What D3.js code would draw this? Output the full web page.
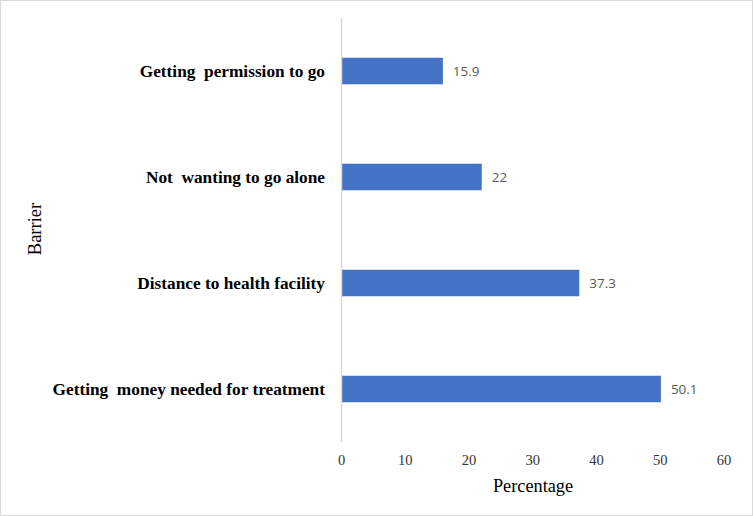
<!DOCTYPE html>
<html>
<head>
<meta charset="utf-8">
<script src="https://cdn.jsdelivr.net/npm/d3@7"></script>
<style>
  html, body { margin: 0; padding: 0; background: #fff; }
  svg text { white-space: pre; }
</style>
</head>
<body>
<svg id="chart" width="753" height="516"></svg>
<script>
const categories = [
  "Getting  permission to go",
  "Not  wanting to go alone",
  "Distance to health facility",
  "Getting  money needed for treatment"
];
const values = [15.9, 22, 37.3, 50.1];
const valueLabels = ["15.9", "22", "37.3", "50.1"];
const xTicks = [0, 10, 20, 30, 40, 50, 60];

(function () {
const svg = d3.select("#chart");
const W = 753, H = 516;

svg.append("rect")
  .attr("x", 0.5).attr("y", 0.5)
  .attr("width", W - 1).attr("height", H - 1)
  .attr("fill", "#fff").attr("stroke", "#d9d9d9");

const plotLeft = 341.5, plotRight = 724, plotTop = 18, plotBottom = 442;

const x = d3.scaleLinear().domain([0, 60]).range([plotLeft, plotRight]);
const y = d3.scaleBand().domain(categories).range([plotTop, plotBottom]).paddingInner(0.75).paddingOuter(0.375);

svg.selectAll("rect.bar").data(categories).enter().append("rect")
  .attr("class", "bar")
  .attr("x", x(0))
  .attr("y", d => y(d))
  .attr("width", (d, i) => x(values[i]) - x(0))
  .attr("height", y.bandwidth())
  .attr("fill", "#4472c4");

svg.append("line")
  .attr("x1", x(0)).attr("x2", x(0))
  .attr("y1", plotTop).attr("y2", plotBottom)
  .attr("stroke", "#d9d9d9").attr("stroke-width", 1.5);

svg.selectAll("text.val").data(categories).enter().append("text")
  .attr("class", "val")
  .attr("x", (d, i) => x(values[i]) + 10)
  .attr("y", d => y(d) + y.bandwidth() / 2)
  .attr("dy", "0.35em")
  .attr("font-family", "'Open Sans', 'Liberation Sans', sans-serif")
  .attr("font-size", 13.5)
  .attr("fill", "#595959")
  .text((d, i) => valueLabels[i]);

svg.selectAll("text.cat").data(categories).enter().append("text")
  .attr("class", "cat")
  .attr("x", 325)
  .attr("y", d => y(d) + y.bandwidth() / 2)
  .attr("dy", "0.35em")
  .attr("text-anchor", "end")
  .attr("font-family", "'Liberation Serif', 'Times New Roman', serif")
  .attr("font-weight", "bold")
  .attr("font-size", 17.3)
  .attr("fill", "#000")
  .text(d => d);

svg.selectAll("text.tick").data(xTicks).enter().append("text")
  .attr("class", "tick")
  .attr("x", d => x(d))
  .attr("y", 460)
  .attr("dy", "0.35em")
  .attr("text-anchor", "middle")
  .attr("font-family", "'Liberation Serif', 'Times New Roman', serif")
  .attr("font-size", 14.5)
  .attr("fill", "#333")
  .text(d => d);

svg.append("text")
  .attr("x", 533).attr("y", 486).attr("dy", "0.35em")
  .attr("text-anchor", "middle")
  .attr("font-family", "'Liberation Serif', 'Times New Roman', serif")
  .attr("font-size", 18.3)
  .attr("fill", "#000")
  .text("Percentage");

svg.append("text")
  .attr("transform", "translate(35,229) rotate(-90)")
  .attr("dy", "0.35em")
  .attr("text-anchor", "middle")
  .attr("font-family", "'Liberation Serif', 'Times New Roman', serif")
  .attr("font-size", 18.5)
  .attr("fill", "#000")
  .text("Barrier");
})();
</script>
</body>
</html>
